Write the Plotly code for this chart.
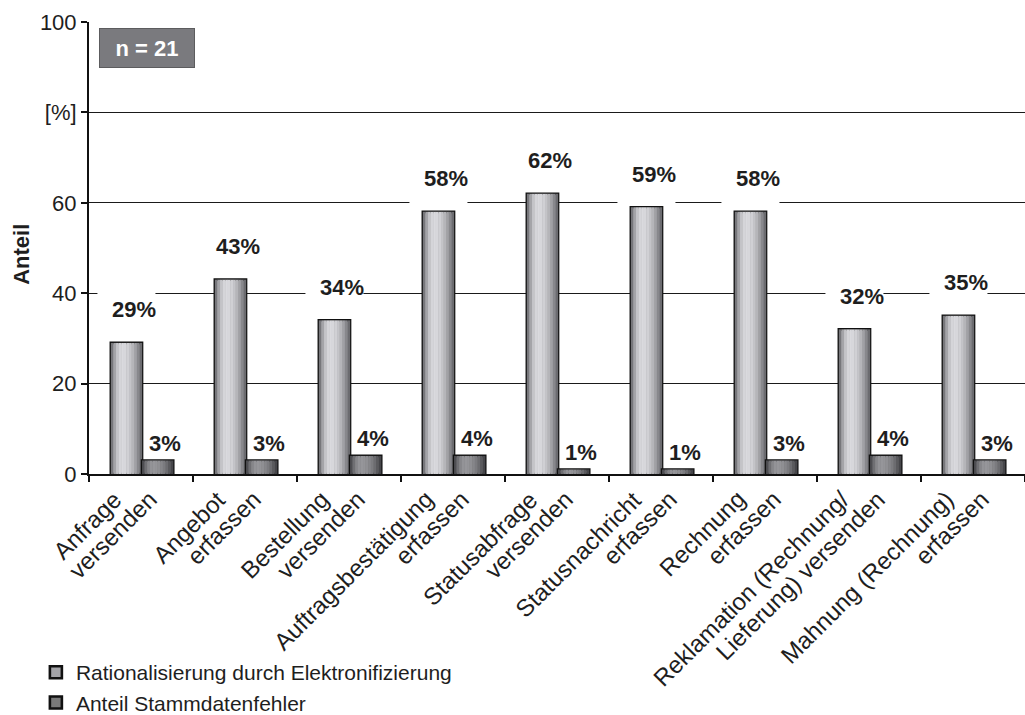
import plotly.graph_objects as go

# ---------------- data ----------------
categories = [
    "Anfrage<br>versenden",
    "Angebot<br>erfassen",
    "Bestellung<br>versenden",
    "Auftragsbestätigung<br>erfassen",
    "Statusabfrage<br>versenden",
    "Statusnachricht<br>erfassen",
    "Rechnung<br>erfassen",
    "Reklamation (Rechnung/<br>Lieferung) versenden",
    "Mahnung (Rechnung)<br>erfassen",
]
rationalisierung = [29, 43, 34, 58, 62, 59, 58, 32, 35]
stammdatenfehler = [3, 3, 4, 4, 1, 1, 3, 4, 3]
series_names = ["Rationalisierung durch Elektronifizierung", "Anteil Stammdatenfehler"]
y_tickvals = [0, 20, 40, 60, 80, 100]
y_ticktext = ["0", "20", "40", "60", "[%]", "100"]
y_title = "Anteil"
sample_label = "n = 21"

# ---------------- style ----------------
FONT = "Liberation Sans, Arial, Helvetica, sans-serif"
TXT = "#1e1e1e"
N_SLICES = 12
BAR_W = 0.30
series_style = [
    dict(values=rationalisierung, offset=-0.29, lo=92, hi=218, mid="#a4a4a8", label_dy=33),
    dict(values=stammdatenfehler, offset=0.01, lo=58, hi=150, mid="#7a7a7a", label_dy=17),
]

x_idx = list(range(len(categories)))


def shade(t, lo, hi, peak=0.36):
    d = (t - peak) / (peak if t < peak else 1 - peak)
    v = lo + (hi - lo) * (1 - d * d)
    v = int(round(v))
    return f"rgb({v},{v},{min(255, v + 4)})"


fig = go.Figure()

for s_i, (name, st) in enumerate(zip(series_names, series_style)):
    fig.add_trace(go.Bar(
        x=x_idx, y=st["values"], name=name,
        width=BAR_W, offset=st["offset"],
        marker=dict(color=st["mid"], line=dict(color="#111111", width=2.6)),
        showlegend=True, hoverinfo="skip",
    ))
    sw = BAR_W / N_SLICES
    for k in range(N_SLICES):
        t = (k + 0.5) / N_SLICES
        fig.add_trace(go.Bar(
            x=x_idx, y=st["values"], width=sw * 1.04,
            offset=st["offset"] + k * sw,
            marker=dict(color=shade(t, st["lo"], st["hi"]), line=dict(width=0)),
            showlegend=False, hoverinfo="skip",
        ))

annotations = []
shapes = []

for st in series_style:
    for i, v in zip(x_idx, st["values"]):
        cx = i + st["offset"] + BAR_W / 2
        annotations.append(dict(
            x=cx, y=v, xref="x", yref="y", xshift=7.5, yshift=st["label_dy"],
            text=f"<b>{v}%</b>", showarrow=False, xanchor="center", yanchor="middle",
            font=dict(family=FONT, size=22, color=TXT),
        ))
        if st is series_style[0]:
            shapes.append(dict(
                type="rect", layer="between", xref="x", yref="y",
                xsizemode="pixel", ysizemode="pixel", xanchor=cx, yanchor=v,
                x0=-29, x1=29, y0=0, y1=st["label_dy"] + 21,
                fillcolor="white", line=dict(width=0),
            ))

for i, cat in zip(x_idx, categories):
    lines = cat.split("<br>")
    for j, ln in enumerate(lines):
        annotations.append(dict(
            x=i, y=0, xref="x", yref="y", xshift=-12 + 36 * j, yshift=-9,
            text=ln, showarrow=False, textangle=-45,
            xanchor="right", yanchor="top",
            font=dict(family=FONT, size=24, color=TXT),
        ))

annotations.append(dict(
    x=0.0107, y=0.987, xref="paper", yref="paper", xanchor="left", yanchor="top",
    text=f"<b>{sample_label}</b>", showarrow=False, width=92, height=36,
    bgcolor="#7a7a7e", bordercolor="#5c5c5e", borderwidth=1,
    font=dict(family=FONT, size=22, color="white"),
))

annotations.append(dict(
    x=-0.0716, y=0.487, xref="paper", yref="paper", xanchor="center", yanchor="middle",
    text=f"<b>{y_title}</b>", showarrow=False, textangle=-90,
    font=dict(family=FONT, size=22, color=TXT),
))

fig.update_layout(
    width=1025, height=715,
    margin=dict(l=89, r=0, t=22, b=241, autoexpand=False),
    paper_bgcolor="white", plot_bgcolor="white",
    barmode="overlay",
    font=dict(family=FONT, color=TXT),
    showlegend=True,
    legend=dict(
        xref="container", yref="container", x=0.035, y=0.088,
        xanchor="left", yanchor="top", orientation="v",
        font=dict(family=FONT, size=21, color=TXT),
        bgcolor="rgba(0,0,0,0)", tracegroupgap=0, itemwidth=30,
    ),
    annotations=annotations,
    shapes=shapes,
    xaxis=dict(
        range=[-0.5, len(categories) - 0.5],
        tickvals=[i - 0.5 for i in range(len(categories) + 1)],
        showticklabels=False, ticks="outside", ticklen=6, tickwidth=2, tickcolor="#111",
        showline=True, linewidth=2, linecolor="#111", showgrid=False, zeroline=False,
    ),
    yaxis=dict(
        range=[0, 100], tickvals=y_tickvals, ticktext=y_ticktext,
        ticks="outside", ticklen=6, tickwidth=2, tickcolor="#111",
        tickfont=dict(family=FONT, size=22, color=TXT),
        showline=True, linewidth=2, linecolor="#111",
        showgrid=True, gridcolor="#1a1a1a", gridwidth=1.4, zeroline=False,
    ),
)

fig.write_html("out.html")
